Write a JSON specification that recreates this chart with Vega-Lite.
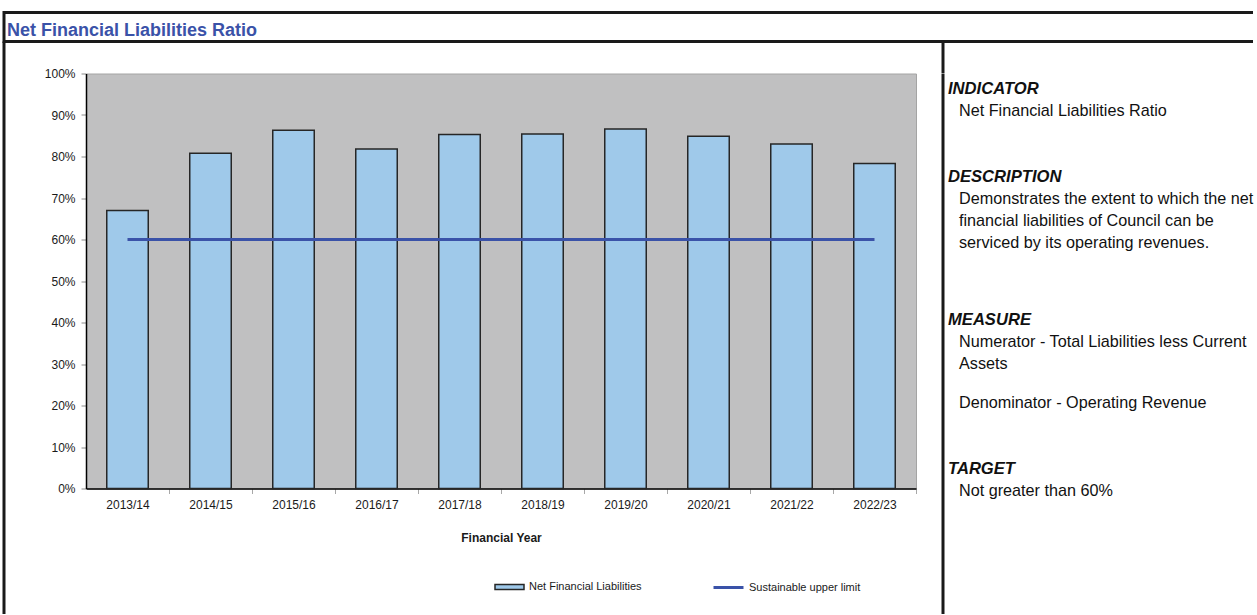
{
  "$schema": "https://vega.github.io/schema/vega-lite/v6.json",
  "padding": {"left": 2, "top": 10.5, "right": 0, "bottom": -3},
  "background": "white",
  "config": {
    "font": "Liberation Sans",
    "view": {"stroke": null},
    "axis": {"labelColor": "#1a1a1a", "titleColor": "#1a1a1a", "grid": false}
  },
  "datasets": {
    "ratio": [
      {"year": "2013/14", "value": 0.670, "series": "Net Financial Liabilities"},
      {"year": "2014/15", "value": 0.808, "series": "Net Financial Liabilities"},
      {"year": "2015/16", "value": 0.863, "series": "Net Financial Liabilities"},
      {"year": "2016/17", "value": 0.818, "series": "Net Financial Liabilities"},
      {"year": "2017/18", "value": 0.853, "series": "Net Financial Liabilities"},
      {"year": "2018/19", "value": 0.854, "series": "Net Financial Liabilities"},
      {"year": "2019/20", "value": 0.866, "series": "Net Financial Liabilities"},
      {"year": "2020/21", "value": 0.849, "series": "Net Financial Liabilities"},
      {"year": "2021/22", "value": 0.830, "series": "Net Financial Liabilities"},
      {"year": "2022/23", "value": 0.783, "series": "Net Financial Liabilities"}
    ],
    "limit": [
      {"year": "2013/14", "limit": 0.6, "series": "Sustainable upper limit"},
      {"year": "2014/15", "limit": 0.6, "series": "Sustainable upper limit"},
      {"year": "2015/16", "limit": 0.6, "series": "Sustainable upper limit"},
      {"year": "2016/17", "limit": 0.6, "series": "Sustainable upper limit"},
      {"year": "2017/18", "limit": 0.6, "series": "Sustainable upper limit"},
      {"year": "2018/19", "limit": 0.6, "series": "Sustainable upper limit"},
      {"year": "2019/20", "limit": 0.6, "series": "Sustainable upper limit"},
      {"year": "2020/21", "limit": 0.6, "series": "Sustainable upper limit"},
      {"year": "2021/22", "limit": 0.6, "series": "Sustainable upper limit"},
      {"year": "2022/23", "limit": 0.6, "series": "Sustainable upper limit"}
    ],
    "notes": [
      {"kind": "heading", "line": 0, "note": "INDICATOR"},
      {"kind": "body", "line": 4, "note": "Net Financial Liabilities Ratio"},
      {"kind": "heading", "line": 16, "note": "DESCRIPTION"},
      {"kind": "body", "line": 20, "note": "Demonstrates the extent to which the net"},
      {"kind": "body", "line": 24, "note": "financial liabilities of Council can be"},
      {"kind": "body", "line": 28, "note": "serviced by its operating revenues."},
      {"kind": "heading", "line": 42, "note": "MEASURE"},
      {"kind": "body", "line": 46, "note": "Numerator - Total Liabilities less Current"},
      {"kind": "body", "line": 50, "note": "Assets"},
      {"kind": "body", "line": 57, "note": "Denominator - Operating Revenue"},
      {"kind": "heading", "line": 69, "note": "TARGET"},
      {"kind": "body", "line": 73, "note": "Not greater than 60%"}
    ]
  },
  "spacing": 0,
  "bounds": "flush",
  "vconcat": [
    {
      "width": 1249,
      "height": 29,
      "title": {
        "text": "Net Financial Liabilities Ratio",
        "anchor": "start",
        "frame": "group",
        "offset": -27,
        "dx": 3,
        "fontSize": 18,
        "fontWeight": "bold",
        "color": "#3a52a8"
      },
      "view": {"stroke": "#1a1a1a", "strokeWidth": 3, "strokeDash": [1249, 29, 1278]},
      "data": {"values": []},
      "mark": {"type": "rule"},
      "encoding": {}
    },
    {
      "spacing": 0,
      "bounds": "flush",
      "hconcat": [
        {
          "width": 82,
          "height": 572.5,
          "view": {"stroke": "#1a1a1a", "strokeWidth": 3, "strokeDash": [0, 736.5, 572.5]},
          "data": {"values": []},
          "mark": {"type": "rule"},
          "encoding": {}
        },
        {
          "spacing": 0,
          "bounds": "flush",
          "vconcat": [
            {
              "width": 857,
              "height": 31.5,
              "view": {"stroke": "#1a1a1a", "strokeWidth": 3, "strokeDash": [0, 857, 31.5, 888.5]},
              "data": {"values": []},
              "mark": {"type": "rule"},
              "encoding": {}
            },
            {
              "spacing": 27,
              "bounds": "flush",
              "hconcat": [
                {
                  "width": 830,
                  "height": 415,
                  "view": {"fill": "#c0c0c1", "stroke": "#a4a4a4", "strokeWidth": 1},
                  "layer": [
                    {
                      "data": {"name": "ratio"},
                      "mark": {"type": "bar", "stroke": "#262626", "strokeWidth": 1.5},
                      "encoding": {
                        "x": {
                          "field": "year",
                          "type": "ordinal",
                          "scale": {"paddingInner": 0.5, "paddingOuter": 0.25},
                          "axis": {
                            "title": "Financial Year",
                            "labelAngle": 0,
                            "tickOffset": 41.5,
                            "labelOffset": -41.5,
                            "domainColor": "#000000",
                            "domainWidth": 1.5,
                            "tickColor": "#a8a8a8",
                            "tickSize": 5,
                            "labelFontSize": 12,
                            "labelPadding": 6,
                            "titleFontSize": 12,
                            "titleFontWeight": "bold",
                            "titlePadding": 22
                          }
                        },
                        "y": {
                          "field": "value",
                          "type": "quantitative",
                          "scale": {"domain": [0, 1], "nice": false},
                          "axis": {
                            "title": null,
                            "format": ".0%",
                            "values": [0, 0.1, 0.2, 0.3, 0.4, 0.5, 0.6, 0.7, 0.8, 0.9, 1],
                            "domainColor": "#000000",
                            "domainWidth": 1.5,
                            "tickColor": "#8a8a8a",
                            "tickSize": 5,
                            "labelFontSize": 12,
                            "labelPadding": 6
                          }
                        },
                        "fill": {
                          "field": "series",
                          "type": "nominal",
                          "scale": {"range": ["#9fc9ea"]},
                          "legend": {
                            "title": null,
                            "orient": "none",
                            "legendX": 490,
                            "legendY": 559,
                            "padding": 0,
                            "symbolType": "M-1,-0.18H1V0.18H-1Z",
                            "symbolSize": 841,
                            "symbolStrokeColor": "#262626",
                            "symbolStrokeWidth": 1.5,
                            "labelFontSize": 11,
                            "labelOffset": 4,
                            "labelColor": "#1a1a1a"
                          }
                        }
                      }
                    },
                    {
                      "data": {"name": "limit"},
                      "mark": {"type": "line", "strokeWidth": 3},
                      "encoding": {
                        "x": {"field": "year", "type": "ordinal"},
                        "y": {"field": "limit", "type": "quantitative"},
                        "stroke": {
                          "field": "series",
                          "type": "nominal",
                          "scale": {"range": ["#3a52a8"]},
                          "legend": {
                            "title": null,
                            "orient": "none",
                            "legendX": 708,
                            "legendY": 558.5,
                            "padding": 0,
                            "symbolType": "stroke",
                            "symbolSize": 900,
                            "symbolStrokeWidth": 3,
                            "labelFontSize": 11,
                            "labelOffset": 4,
                            "labelColor": "#1a1a1a"
                          }
                        }
                      }
                    }
                  ]
                },
                {
                  "width": 310,
                  "height": 541,
                  "view": {"stroke": "#1a1a1a", "strokeWidth": 3, "strokeDash": [0, 1161, 541]},
                  "data": {"name": "notes"},
                  "encoding": {
                    "x": {
                      "field": "kind",
                      "type": "nominal",
                      "scale": {"type": "point", "domain": ["heading", "body"], "range": [5, 16], "padding": 0},
                      "axis": null
                    },
                    "y": {
                      "field": "line",
                      "type": "quantitative",
                      "scale": {"domain": [-2.909, 95.4545], "reverse": true, "nice": false, "zero": false},
                      "axis": null
                    },
                    "text": {"field": "note", "type": "nominal"}
                  },
                  "layer": [
                    {
                      "transform": [{"filter": "datum.kind === 'heading'"}],
                      "mark": {"type": "text", "align": "left", "baseline": "middle", "fontSize": 16.6, "fontWeight": "bold", "fontStyle": "italic", "color": "#111111"}
                    },
                    {
                      "transform": [{"filter": "datum.kind === 'body'"}],
                      "mark": {"type": "text", "align": "left", "baseline": "middle", "fontSize": 16.2, "color": "#111111"}
                    }
                  ]
                }
              ]
            }
          ]
        }
      ]
    }
  ]
}
